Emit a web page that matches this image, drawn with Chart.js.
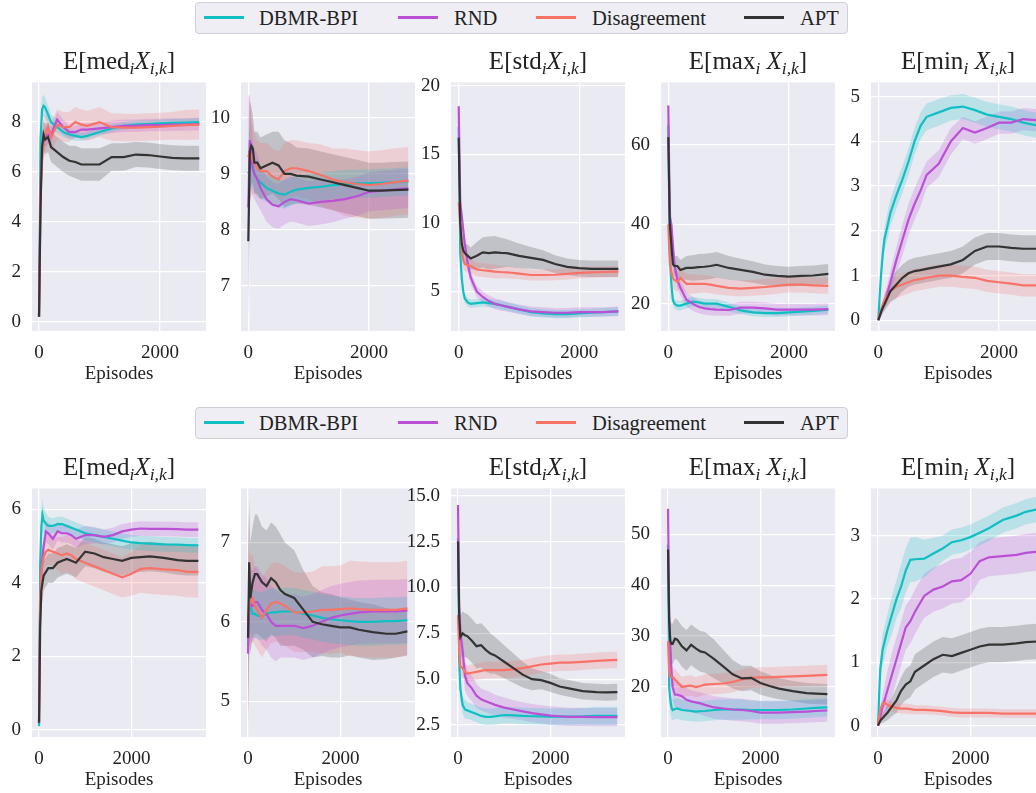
<!DOCTYPE html>
<html>
<head>
<meta charset="utf-8">
<script src="https://cdn.jsdelivr.net/npm/chart.js@4.4.0/dist/chart.umd.min.js"></script>
<style>
body { margin: 0; width: 1036px; height: 793px; overflow: hidden; background: #fff; position: relative; font-family: "Liberation Serif", serif; color: #222; }
.panel { position: absolute; }
.title { position: absolute; text-align: center; font-size: 25px; line-height: 30px; white-space: nowrap; }
.title sub { font-size: 0.7em; line-height: 0; vertical-align: -0.3em; }
.legend { position: absolute; left: 195px; width: 651px; height: 30px; border: 1px solid #cfcfd8; border-radius: 4px; background: #eeeef4; }
.item { position: absolute; top: 0; height: 30px; line-height: 30px; font-size: 20.5px; white-space: nowrap; }
.swatch { position: absolute; width: 40px; height: 2.5px; top: 13px; }
</style>
</head>
<body>
<script>
const seriesNames = ['DBMR-BPI', 'RND', 'Disagreement', 'APT'];
const seriesColors = ['#10bfc2', '#bb4fd5', '#f87268', '#333333'];

// episodes sampled along each row
const xTop = [0, 25, 50, 75, 100, 150, 200, 300, 400, 500, 600, 700, 800, 1000, 1200, 1400, 1600, 1800, 2000, 2200, 2400, 2650];
const xBot = [0, 25, 50, 75, 100, 150, 200, 300, 400, 500, 600, 700, 800, 1000, 1200, 1400, 1600, 1800, 2000, 2200, 2400, 2700, 3000, 3200, 3450];
const xTicks = [0, 2000];

// ---- top row ----
// E[med]
const t1Ticks = [0, 2, 4, 6, 8];
const t1Dbmr = [0.2,7.3,8.5,8.65,8.6,8.3,8.0,7.8,7.6,7.5,7.45,7.4,7.45,7.6,7.75,7.85,7.9,7.92,7.95,7.97,7.98,8.0];
const t1DbmrSd = [0.1,0.6,0.5,0.45,0.4,0.35,0.3,0.25,0.2,0.2,0.2,0.15,0.15,0.15,0.15,0.15,0.15,0.15,0.15,0.15,0.15,0.15];
const t1Rnd = [0.2,5.5,6.8,7.2,7.4,7.5,7.5,8.1,7.8,7.6,7.6,7.7,7.7,7.75,7.8,7.85,7.85,7.88,7.88,7.9,7.9,7.92];
const t1RndSd = [0.1,0.8,0.7,0.5,0.4,0.35,0.3,0.3,0.3,0.25,0.25,0.25,0.25,0.25,0.25,0.25,0.25,0.25,0.25,0.25,0.25,0.25];
const t1Dis = [0.2,5.0,6.5,7.2,7.5,7.8,7.4,7.9,7.8,7.8,8.0,7.9,7.85,8.0,7.8,7.78,7.78,7.8,7.82,7.85,7.88,7.9];
const t1DisSd = [0.1,0.8,0.8,0.7,0.7,0.65,0.6,0.6,0.6,0.6,0.6,0.6,0.6,0.6,0.55,0.55,0.55,0.55,0.55,0.55,0.6,0.6];
const t1Apt = [0.2,4.6,7.0,7.5,7.3,7.4,7.0,6.8,6.6,6.45,6.4,6.3,6.3,6.3,6.6,6.6,6.7,6.68,6.62,6.57,6.55,6.55];
const t1AptSd = [0.1,0.8,0.7,0.6,0.6,0.6,0.6,0.6,0.6,0.6,0.65,0.65,0.65,0.65,0.55,0.55,0.5,0.5,0.5,0.5,0.5,0.5];
// untitled second panel
const t2Ticks = [7, 8, 9, 10];
const t2Dbmr = [9.0,9.1,9.2,9.1,9.0,8.9,8.85,8.75,8.7,8.65,8.63,8.68,8.72,8.75,8.77,8.8,8.82,8.83,8.83,8.84,8.85,8.87];
const t2DbmrSd = [1.2,0.5,0.4,0.35,0.3,0.3,0.3,0.25,0.25,0.25,0.25,0.25,0.25,0.25,0.25,0.25,0.25,0.25,0.25,0.25,0.25,0.25];
const t2Rnd = [8.4,9.6,9.3,9.1,9.0,8.9,8.75,8.55,8.45,8.42,8.5,8.55,8.53,8.47,8.5,8.52,8.55,8.6,8.68,8.7,8.72,8.74];
const t2RndSd = [2.0,0.8,0.6,0.5,0.45,0.45,0.4,0.4,0.4,0.4,0.4,0.4,0.4,0.4,0.4,0.38,0.35,0.35,0.35,0.35,0.35,0.35];
const t2Dis = [9.3,9.4,9.3,9.25,9.2,9.1,9.05,9.05,8.95,8.9,9.05,9.1,9.1,9.05,8.98,8.9,8.85,8.82,8.8,8.82,8.85,8.88];
const t2DisSd = [1.1,0.9,0.7,0.6,0.55,0.5,0.5,0.5,0.5,0.5,0.5,0.5,0.5,0.5,0.55,0.55,0.6,0.6,0.6,0.6,0.6,0.6];
const t2Apt = [7.8,9.4,9.5,9.45,9.2,9.2,9.1,9.15,9.2,9.15,9.0,9.0,8.97,8.95,8.9,8.85,8.8,8.75,8.7,8.7,8.71,8.72];
const t2AptSd = [1.5,0.9,0.7,0.6,0.55,0.55,0.55,0.55,0.55,0.6,0.6,0.55,0.5,0.5,0.5,0.5,0.5,0.5,0.5,0.5,0.5,0.5];
// E[std]
const t3Ticks = [5, 10, 15, 20];
const t3Dbmr = [17,7.8,6.0,5.0,4.5,4.2,4.1,4.15,4.2,4.15,4.1,4.0,3.9,3.7,3.5,3.4,3.35,3.35,3.4,3.45,3.5,3.55];
const t3DbmrSd = [2.5,0.6,0.5,0.4,0.35,0.3,0.3,0.3,0.3,0.3,0.3,0.3,0.3,0.3,0.3,0.3,0.3,0.3,0.3,0.3,0.3,0.3];
const t3Rnd = [18.5,11.5,10.5,9.5,8.5,7.0,6.0,5.0,4.6,4.3,4.1,4.0,3.9,3.7,3.55,3.5,3.45,3.45,3.5,3.5,3.5,3.55];
const t3RndSd = [1.0,1.0,0.8,0.7,0.6,0.5,0.5,0.4,0.4,0.4,0.4,0.4,0.35,0.35,0.35,0.35,0.35,0.35,0.35,0.35,0.35,0.35];
const t3Dis = [11.5,10,8.0,7.3,7.0,6.9,6.85,6.6,6.55,6.5,6.45,6.42,6.4,6.3,6.2,6.2,6.22,6.28,6.35,6.4,6.42,6.45];
const t3DisSd = [1.0,0.8,0.7,0.6,0.5,0.5,0.5,0.5,0.5,0.5,0.5,0.45,0.45,0.4,0.4,0.4,0.4,0.4,0.4,0.4,0.4,0.4];
const t3Apt = [16.2,10.0,8.5,8.0,7.8,7.6,7.4,7.6,7.85,7.8,7.85,7.82,7.8,7.6,7.45,7.3,7.0,6.8,6.7,6.65,6.65,6.65];
const t3AptSd = [2.8,1.2,1.0,0.9,0.8,0.8,0.8,1.0,1.1,1.2,1.2,1.1,1.0,0.9,0.8,0.7,0.65,0.6,0.6,0.6,0.6,0.6];
// E[max]
const t4Ticks = [20, 40, 60];
const t4Dbmr = [65,33,25,21,20,19.5,19.5,20,20.5,20.3,20,20,20,19.2,18.3,17.8,17.6,17.6,17.8,18,18.2,18.5];
const t4DbmrSd = [7,2,1.5,1.2,1.2,1.2,1.2,1.2,1.2,1.2,1.2,1.2,1.1,1.1,1.0,1.0,1.0,1.0,1.0,1.0,1.0,1.0];
const t4Rnd = [70,42,40,35,30,26,24,21,20,19.2,18.8,18.6,18.5,18.4,19,19,18.8,18.5,18.5,18.5,18.5,18.6];
const t4RndSd = [3,3,2.5,2.5,2.2,2,2,1.8,1.8,1.6,1.6,1.5,1.5,1.5,1.5,1.5,1.5,1.5,1.5,1.5,1.5,1.5];
const t4Dis = [40,30,28,26.5,26,25.5,26.5,25,25,25,25,24.8,24.5,24,23.8,24,24.2,24.5,24.8,24.8,24.6,24.5];
const t4DisSd = [4,3,2.5,2.5,2.5,2.5,2.5,2.5,2.5,2.3,2.2,2.2,2.2,2.0,2.0,2.0,2.0,2.0,2.0,2.0,2.0,2.0];
const t4Apt = [62,40,35,30,29.5,29.5,28.5,29,29,29.2,29.3,29.5,29.8,29,28.5,28,27.3,27,26.8,27,27.1,27.5];
const t4AptSd = [8,3,2.5,2.5,2.5,2.5,2.5,3,3.2,3.3,3.3,3.3,3.2,3,2.8,2.7,2.6,2.5,2.5,2.5,2.5,2.5];
// E[min]
const t5Ticks = [0, 1, 2, 3, 4, 5];
const t5Dbmr = [0,0.6,1.1,1.5,1.8,2.1,2.4,2.8,3.15,3.55,4.0,4.35,4.55,4.65,4.75,4.78,4.7,4.6,4.55,4.5,4.42,4.35];
const t5DbmrSd = [0,0.1,0.15,0.2,0.25,0.3,0.3,0.3,0.3,0.3,0.3,0.3,0.3,0.3,0.28,0.28,0.28,0.28,0.28,0.28,0.28,0.28];
const t5Rnd = [0,0.1,0.2,0.3,0.4,0.6,0.85,1.35,1.8,2.25,2.6,2.9,3.25,3.5,4.0,4.3,4.2,4.3,4.42,4.42,4.5,4.47];
const t5RndSd = [0,0.05,0.1,0.1,0.15,0.2,0.25,0.3,0.35,0.35,0.35,0.35,0.3,0.3,0.3,0.25,0.25,0.25,0.25,0.25,0.25,0.25];
const t5Dis = [0,0.15,0.25,0.35,0.45,0.55,0.65,0.75,0.8,0.85,0.9,0.92,0.95,1.0,1.0,0.97,0.95,0.88,0.85,0.82,0.78,0.78];
const t5DisSd = [0,0.05,0.1,0.1,0.15,0.2,0.2,0.25,0.25,0.25,0.25,0.25,0.25,0.25,0.25,0.25,0.25,0.25,0.25,0.25,0.25,0.25];
const t5Apt = [0,0.1,0.2,0.28,0.35,0.5,0.65,0.8,0.95,1.05,1.1,1.12,1.15,1.2,1.25,1.35,1.55,1.65,1.65,1.62,1.6,1.6];
const t5AptSd = [0,0.05,0.1,0.12,0.15,0.2,0.25,0.3,0.3,0.3,0.3,0.3,0.3,0.3,0.3,0.3,0.3,0.3,0.3,0.3,0.3,0.3];

// ---- bottom row ----
const b1Ticks = [0, 2, 4, 6];
const b1Dbmr = [0.1,4.5,5.5,5.85,5.7,5.6,5.55,5.55,5.6,5.6,5.55,5.5,5.45,5.35,5.3,5.25,5.2,5.15,5.1,5.08,5.07,5.05,5.04,5.03,5.02];
const b1DbmrSd = [0.1,0.5,0.45,0.45,0.35,0.3,0.25,0.2,0.2,0.2,0.2,0.2,0.2,0.2,0.2,0.2,0.2,0.2,0.2,0.2,0.2,0.2,0.2,0.2,0.2];
const b1Rnd = [0.2,3.5,4.3,4.7,5.0,5.4,5.35,5.2,5.4,5.35,5.35,5.3,5.2,5.3,5.3,5.25,5.3,5.4,5.45,5.48,5.47,5.47,5.46,5.45,5.45];
const b1RndSd = [0.1,0.5,0.4,0.35,0.3,0.3,0.3,0.3,0.25,0.25,0.25,0.25,0.25,0.25,0.22,0.2,0.2,0.2,0.2,0.2,0.2,0.2,0.2,0.2,0.2];
const b1Dis = [0.2,3.5,4.3,4.5,4.7,4.85,4.9,4.85,4.8,4.75,4.8,4.75,4.65,4.55,4.45,4.35,4.25,4.15,4.25,4.38,4.4,4.37,4.35,4.3,4.3];
const b1DisSd = [0.1,0.5,0.5,0.45,0.4,0.4,0.4,0.4,0.45,0.5,0.5,0.5,0.55,0.55,0.55,0.55,0.55,0.55,0.6,0.65,0.7,0.7,0.7,0.7,0.7];
const b1Apt = [0.2,2.8,3.8,4.0,4.2,4.3,4.4,4.4,4.55,4.6,4.65,4.6,4.55,4.85,4.8,4.7,4.65,4.6,4.68,4.7,4.72,4.68,4.62,4.6,4.6];
const b1AptSd = [0.1,0.6,0.5,0.45,0.4,0.4,0.4,0.4,0.4,0.4,0.4,0.4,0.4,0.4,0.4,0.4,0.4,0.4,0.4,0.4,0.4,0.4,0.4,0.4,0.4];
const b2Ticks = [5, 6, 7];
const b2Dbmr = [5.7,6.35,6.2,6.15,6.1,6.1,6.08,6.07,6.1,6.12,6.12,6.13,6.13,6.13,6.1,6.08,6.05,6.03,6.02,6.01,6.0,6.0,6.01,6.01,6.02];
const b2DbmrSd = [0.6,0.4,0.35,0.3,0.3,0.3,0.3,0.3,0.3,0.3,0.3,0.3,0.3,0.3,0.3,0.3,0.3,0.3,0.3,0.3,0.3,0.3,0.3,0.3,0.3];
const b2Rnd = [5.6,6.2,6.25,6.2,6.2,6.25,6.25,6.15,6.1,6.0,5.95,5.95,5.95,5.95,5.92,5.95,6.0,6.05,6.08,6.1,6.12,6.13,6.13,6.13,6.14];
const b2RndSd = [0.9,0.5,0.45,0.45,0.45,0.45,0.45,0.45,0.45,0.45,0.45,0.4,0.4,0.4,0.4,0.4,0.4,0.4,0.4,0.4,0.4,0.4,0.4,0.4,0.4];
const b2Dis = [6.0,6.2,6.25,6.28,6.3,6.2,6.15,6.05,6.15,6.23,6.25,6.23,6.2,6.12,6.12,6.13,6.15,6.15,6.16,6.17,6.16,6.15,6.15,6.15,6.17];
const b2DisSd = [1.4,0.7,0.6,0.55,0.55,0.5,0.5,0.5,0.5,0.5,0.5,0.5,0.5,0.5,0.5,0.5,0.55,0.55,0.55,0.6,0.6,0.6,0.6,0.6,0.6];
const b2Apt = [5.8,6.75,6.3,6.4,6.5,6.6,6.6,6.5,6.45,6.55,6.5,6.4,6.35,6.3,6.15,6.0,5.97,5.95,5.93,5.93,5.9,5.87,5.85,5.85,5.88];
const b2AptSd = [1.0,0.8,0.7,0.7,0.7,0.75,0.75,0.7,0.7,0.7,0.7,0.7,0.65,0.6,0.5,0.45,0.4,0.4,0.38,0.35,0.35,0.35,0.32,0.3,0.3];
const b3Ticks = [2.5, 5, 7.5, 10, 12.5, 15];
const b3Dbmr = [12.7,6.0,4.5,4.0,3.6,3.35,3.3,3.2,3.1,3.0,2.95,2.95,2.97,3.05,3.03,3.0,2.98,2.97,2.96,2.96,2.96,2.97,3.0,3.0,3.0];
const b3DbmrSd = [1.5,0.7,0.6,0.55,0.5,0.5,0.45,0.45,0.45,0.45,0.45,0.45,0.45,0.45,0.45,0.45,0.45,0.45,0.45,0.45,0.45,0.45,0.5,0.5,0.5];
const b3Rnd = [14.5,9.0,7.5,7.0,6.5,5.2,4.8,4.5,4.1,3.9,3.8,3.7,3.6,3.45,3.35,3.25,3.15,3.08,3.02,2.98,2.95,2.95,2.93,2.93,2.93];
const b3RndSd = [1.5,1.0,0.9,0.9,0.9,0.8,0.7,0.7,0.65,0.6,0.6,0.6,0.55,0.55,0.5,0.5,0.5,0.5,0.5,0.5,0.5,0.5,0.5,0.5,0.5];
const b3Dis = [8.5,6.5,5.7,5.65,5.6,5.4,5.3,5.35,5.4,5.45,5.5,5.5,5.5,5.5,5.55,5.6,5.7,5.8,5.85,5.9,5.9,5.95,6.0,6.03,6.05];
const b3DisSd = [1.0,0.7,0.6,0.55,0.5,0.45,0.45,0.45,0.45,0.45,0.45,0.45,0.45,0.45,0.45,0.45,0.45,0.45,0.45,0.45,0.45,0.45,0.45,0.45,0.45];
const b3Apt = [12.5,8.5,7.3,7.4,7.5,7.4,7.35,7.1,6.8,6.85,6.6,6.4,6.3,5.95,5.6,5.25,5.0,4.95,4.8,4.6,4.5,4.35,4.3,4.28,4.3];
const b3AptSd = [2.0,1.3,1.2,1.2,1.2,1.2,1.2,1.2,1.2,1.2,1.2,1.1,1.0,0.9,0.8,0.7,0.6,0.5,0.5,0.45,0.45,0.45,0.45,0.45,0.45];
const b4Ticks = [20, 30, 40, 50];
const b4Dbmr = [48,20,17.5,16,15.5,15.7,15.8,15.5,15.4,15.3,15.2,15.25,15.3,15.5,15.6,15.6,15.6,15.5,15.5,15.5,15.5,15.6,15.8,15.9,16.0];
const b4DbmrSd = [7,3,2.5,2.2,2,2,2,2,2,2,2,2,2,2,2,2,2,1.8,1.8,1.8,1.8,1.8,1.8,1.8,1.8];
const b4Rnd = [55,34,28,23,20,18.5,18.5,18.2,17.5,17.2,17.0,16.8,16.5,16,15.8,15.6,15.5,15.3,15.0,15.0,15.0,15.1,15.2,15.3,15.4];
const b4RndSd = [4,4,3.5,3,2.5,2.5,2.5,2.5,2.3,2.2,2.2,2.2,2.2,2.2,2.2,2.2,2.2,2.2,2.2,2.2,2.2,2.2,2.2,2.2,2.2];
const b4Dis = [29,23,22,22,22,21.5,21,20,20.2,20.3,20,20.2,20.5,20.6,20.7,21.0,21.5,21.8,21.9,21.9,22.0,22.1,22.2,22.3,22.4];
const b4DisSd = [3,2.5,2.2,2,2,2,2,2,2,2,2,2,2,2,2,2,2,2,2,2,2,2,2,2,2];
const b4Apt = [47,33,29,28.5,28.5,29.5,29.3,28,27.2,28.3,27.6,27,26.8,25.5,24,22.5,21.7,21.8,20.8,20.2,19.7,19.2,18.8,18.7,18.6];
const b4AptSd = [6,4,4,4,4,4,4,4,4,4,4,4,4,3.8,3.3,2.8,2.5,2.4,2.3,2.2,2.1,2,2,2,2];
const b5Ticks = [0, 1, 2, 3];
const b5Dbmr = [0,0.5,0.9,1.05,1.2,1.35,1.5,1.75,2.0,2.2,2.45,2.62,2.63,2.64,2.72,2.8,2.9,2.93,2.98,3.05,3.12,3.25,3.32,3.38,3.42];
const b5DbmrSd = [0,0.1,0.15,0.2,0.25,0.25,0.25,0.3,0.3,0.35,0.35,0.35,0.35,0.3,0.25,0.2,0.2,0.2,0.2,0.2,0.2,0.2,0.2,0.2,0.2];
const b5Rnd = [0,0.08,0.15,0.22,0.3,0.42,0.55,0.8,1.05,1.3,1.55,1.65,1.8,2.05,2.15,2.2,2.28,2.3,2.4,2.6,2.66,2.68,2.7,2.73,2.75];
const b5RndSd = [0,0.05,0.1,0.15,0.2,0.25,0.3,0.35,0.35,0.35,0.35,0.35,0.35,0.35,0.35,0.35,0.35,0.35,0.35,0.3,0.3,0.3,0.3,0.3,0.3];
const b5Dis = [0,0.15,0.25,0.3,0.35,0.36,0.33,0.3,0.28,0.27,0.27,0.26,0.25,0.25,0.24,0.23,0.21,0.2,0.2,0.2,0.2,0.19,0.19,0.19,0.19];
const b5DisSd = [0,0.05,0.05,0.08,0.08,0.08,0.08,0.08,0.08,0.08,0.08,0.08,0.07,0.07,0.07,0.07,0.07,0.07,0.07,0.07,0.07,0.07,0.07,0.07,0.07];
const b5Apt = [0,0.04,0.08,0.1,0.12,0.16,0.2,0.3,0.4,0.55,0.65,0.7,0.85,0.95,1.05,1.12,1.1,1.15,1.2,1.25,1.28,1.28,1.3,1.32,1.33];
const b5AptSd = [0,0.03,0.05,0.06,0.08,0.1,0.12,0.15,0.2,0.22,0.25,0.25,0.28,0.28,0.28,0.28,0.28,0.28,0.28,0.28,0.28,0.28,0.28,0.28,0.28];

const titles = [
  'E[med<sub><i>i</i></sub><i>X</i><sub><i>i,k</i></sub>]',
  '',
  'E[std<sub><i>i</i></sub><i>X</i><sub><i>i,k</i></sub>]',
  'E[max<sub><i>i</i></sub> <i>X</i><sub><i>i,k</i></sub>]',
  'E[min<sub><i>i</i></sub> <i>X</i><sub><i>i,k</i></sub>]'
];

// layout of the plot areas (page pixels)
const YW = 48, PT = 20, PR = 12, XH = 55;
const lefts = [32, 241, 451, 661, 871];
const PW = 174;
const FONT = 'Liberation Serif';

const panels = [
  {T: 80, B: 331, x: xTop, xmin: -116, xmax: 2760, ymin: -0.37, ymax: 9.59, ticks: t1Ticks, mean: [t1Dbmr, t1Rnd, t1Dis, t1Apt], sd: [t1DbmrSd, t1RndSd, t1DisSd, t1AptSd]},
  {T: 80, B: 331, x: xTop, xmin: -121, xmax: 2760, ymin: 6.2, ymax: 10.63, ticks: t2Ticks, mean: [t2Dbmr, t2Rnd, t2Dis, t2Apt], sd: [t2DbmrSd, t2RndSd, t2DisSd, t2AptSd]},
  {T: 80, B: 331, x: xTop, xmin: -128, xmax: 2760, ymin: 2.12, ymax: 20.24, ticks: t3Ticks, mean: [t3Dbmr, t3Rnd, t3Dis, t3Apt], sd: [t3DbmrSd, t3RndSd, t3DisSd, t3AptSd]},
  {T: 80, B: 331, x: xTop, xmin: -121, xmax: 2760, ymin: 13.1, ymax: 75.8, ticks: t4Ticks, mean: [t4Dbmr, t4Rnd, t4Dis, t4Apt], sd: [t4DbmrSd, t4RndSd, t4DisSd, t4AptSd]},
  {T: 80, B: 331, x: xTop, xmin: -121, xmax: 2760, ymin: -0.24, ymax: 5.32, ticks: t5Ticks, mean: [t5Dbmr, t5Rnd, t5Dis, t5Apt], sd: [t5DbmrSd, t5RndSd, t5DisSd, t5AptSd]},
  {T: 486, B: 737, x: xBot, xmin: -152, xmax: 3615, ymin: -0.19, ymax: 6.57, ticks: b1Ticks, mean: [b1Dbmr, b1Rnd, b1Dis, b1Apt], sd: [b1DbmrSd, b1RndSd, b1DisSd, b1AptSd]},
  {T: 486, B: 737, x: xBot, xmin: -152, xmax: 3615, ymin: 4.55, ymax: 7.68, ticks: b2Ticks, mean: [b2Dbmr, b2Rnd, b2Dis, b2Apt], sd: [b2DbmrSd, b2RndSd, b2DisSd, b2AptSd]},
  {T: 486, B: 737, x: xBot, xmin: -152, xmax: 3615, ymin: 1.85, ymax: 15.4, ticks: b3Ticks, dec: 1, mean: [b3Dbmr, b3Rnd, b3Dis, b3Apt], sd: [b3DbmrSd, b3RndSd, b3DisSd, b3AptSd]},
  {T: 486, B: 737, x: xBot, xmin: -152, xmax: 3615, ymin: 10.2, ymax: 59.0, ticks: b4Ticks, mean: [b4Dbmr, b4Rnd, b4Dis, b4Apt], sd: [b4DbmrSd, b4RndSd, b4DisSd, b4AptSd]},
  {T: 486, B: 737, x: xBot, xmin: -152, xmax: 3615, ymin: -0.18, ymax: 3.75, ticks: b5Ticks, mean: [b5Dbmr, b5Rnd, b5Dis, b5Apt], sd: [b5DbmrSd, b5RndSd, b5DisSd, b5AptSd]}
];

function rgba(hex, a) {
  const n = parseInt(hex.slice(1), 16);
  return 'rgba(' + (n >> 16) + ',' + ((n >> 8) & 255) + ',' + (n & 255) + ',' + a + ')';
}

const plotBg = {
  id: 'plotBg',
  beforeDraw(chart) {
    const a = chart.chartArea, ctx = chart.ctx;
    ctx.save();
    ctx.fillStyle = '#eaeaf2';
    ctx.fillRect(a.left, a.top, a.right - a.left, a.bottom - a.top);
    ctx.restore();
  }
};

function addLegend(top) {
  const box = document.createElement('div');
  box.className = 'legend';
  box.style.top = top + 'px';
  const lineX = [8, 202, 340, 548];
  const textX = [63, 258, 396, 604];
  for (let k = 0; k < 4; k++) {
    const sw = document.createElement('div');
    sw.className = 'swatch';
    sw.style.left = lineX[k] + 'px';
    sw.style.background = seriesColors[k];
    box.appendChild(sw);
    const t = document.createElement('div');
    t.className = 'item';
    t.style.left = textX[k] + 'px';
    t.textContent = seriesNames[k];
    box.appendChild(t);
  }
  document.body.appendChild(box);
}

function makePanel(p, idx) {
  const L = lefts[idx % 5];
  const cw = PW + YW + PR, ch = p.B - p.T + PT + XH;
  const wrap = document.createElement('div');
  wrap.className = 'panel';
  wrap.style.left = (L - YW) + 'px';
  wrap.style.top = (p.T - PT) + 'px';
  const c = document.createElement('canvas');
  c.width = cw; c.height = ch;
  c.style.width = cw + 'px'; c.style.height = ch + 'px';
  wrap.appendChild(c);
  document.body.appendChild(wrap);

  const title = titles[idx % 5];
  if (title) {
    const t = document.createElement('div');
    t.className = 'title';
    t.style.left = L + 'px';
    t.style.width = PW + 'px';
    t.style.top = (p.T - 34) + 'px';
    t.innerHTML = title;
    document.body.appendChild(t);
  }

  const datasets = [];
  for (let k = 0; k < 4; k++) {
    const m = p.mean[k], s = p.sd[k];
    datasets.push({data: p.x.map((x, i) => ({x: x, y: m[i] + s[i]})), fill: '+1', backgroundColor: rgba(seriesColors[k], 0.22), borderWidth: 0, pointRadius: 0, order: 10});
    datasets.push({data: p.x.map((x, i) => ({x: x, y: m[i] - s[i]})), fill: false, borderWidth: 0, pointRadius: 0, order: 10});
  }
  for (let k = 0; k < 4; k++) {
    datasets.push({data: p.x.map((x, i) => ({x: x, y: p.mean[k][i]})), borderColor: seriesColors[k], borderWidth: 2.2, pointRadius: 0, fill: false, order: 3 - k});
  }

  const tickFont = {family: FONT, size: 19};
  new Chart(c, {
    type: 'line',
    data: {datasets: datasets},
    options: {
      responsive: false,
      animation: false,
      devicePixelRatio: 1,
      layout: {padding: {left: 0, top: PT, right: PR, bottom: 0}},
      plugins: {legend: {display: false}, tooltip: {enabled: false}, filler: {drawTime: 'beforeDatasetsDraw'}},
      scales: {
        x: {
          type: 'linear', min: p.xmin, max: p.xmax,
          afterBuildTicks: s => { s.ticks = xTicks.map(v => ({value: v})); },
          afterFit: s => { s.height = XH; },
          border: {display: false},
          grid: {color: '#ffffff', lineWidth: 1.3, drawTicks: false},
          ticks: {padding: 11, color: '#222', font: tickFont, maxRotation: 0, autoSkip: false, callback: v => String(v)},
          title: {display: true, text: 'Episodes', color: '#222', font: tickFont, padding: {top: 0, bottom: 1}}
        },
        y: {
          type: 'linear', min: p.ymin, max: p.ymax,
          afterBuildTicks: s => { s.ticks = p.ticks.map(v => ({value: v})); },
          afterFit: s => { s.width = YW; },
          border: {display: false},
          grid: {color: '#ffffff', lineWidth: 1.3, drawTicks: false},
          ticks: {padding: 11, color: '#222', font: tickFont, autoSkip: false, callback: v => p.dec ? v.toFixed(p.dec) : String(v)}
        }
      }
    },
    plugins: [plotBg]
  });
}

addLegend(2);
addLegend(407);
panels.forEach(makePanel);
</script>
</body>
</html>
